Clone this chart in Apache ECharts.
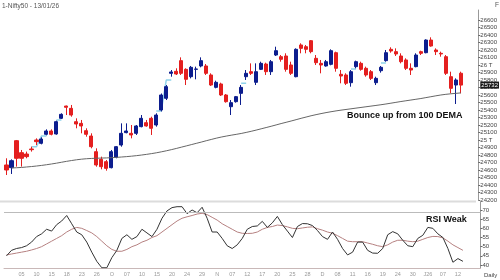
<!DOCTYPE html>
<html><head><meta charset="utf-8">
<script src="https://cdn.jsdelivr.net/npm/echarts@6/dist/echarts.min.js"></script>
<style>html,body{margin:0;padding:0;background:#fff}#c{width:500px;height:280px}</style>
</head><body><div id="c"></div>
<script>
// trading dates (Sep 2 2025 .. Jan 13 2026)
const dates = [
 '2025-09-02','2025-09-03','2025-09-04','2025-09-05','2025-09-08','2025-09-09','2025-09-10','2025-09-11','2025-09-12','2025-09-15','2025-09-16','2025-09-17','2025-09-18','2025-09-19','2025-09-22','2025-09-23','2025-09-24','2025-09-25','2025-09-26','2025-09-29','2025-09-30',
 '2025-10-01','2025-10-03','2025-10-06','2025-10-07','2025-10-08','2025-10-09','2025-10-10','2025-10-13','2025-10-14','2025-10-15','2025-10-16','2025-10-17','2025-10-20','2025-10-21','2025-10-23','2025-10-24','2025-10-27','2025-10-28','2025-10-29','2025-10-30','2025-10-31',
 '2025-11-03','2025-11-04','2025-11-06','2025-11-07','2025-11-10','2025-11-11','2025-11-12','2025-11-13','2025-11-14','2025-11-17','2025-11-18','2025-11-19','2025-11-20','2025-11-21','2025-11-24','2025-11-25','2025-11-26','2025-11-27','2025-11-28',
 '2025-12-01','2025-12-02','2025-12-03','2025-12-04','2025-12-05','2025-12-08','2025-12-09','2025-12-10','2025-12-11','2025-12-12','2025-12-15','2025-12-16','2025-12-17','2025-12-18','2025-12-19','2025-12-22','2025-12-23','2025-12-24','2025-12-26','2025-12-29','2025-12-30','2025-12-31',
 '2026-01-01','2026-01-02','2026-01-05','2026-01-06','2026-01-07','2026-01-08','2026-01-09','2026-01-12','2026-01-13'
];
// [open, close, low, high]
const ohlc = [
 [24667,24600,24533,24756],[24631,24724,24547,24742],[24991,24756,24645,25000],[24831,24756,24645,24867],[24813,24778,24756,24845],
 [24880,24871,24845,24911],[25000,24978,24933,25022],[24956,25013,24942,25036],[25076,25120,25062,25142],[25120,25076,25062,25142],
 [25080,25244,25071,25258],[25289,25342,25280,25356],[25453,25436,25333,25458],[25422,25333,25311,25467],[25244,25213,25156,25289],
 [25222,25187,25089,25267],[25124,25076,25044,25156],[25053,24911,24889,25089],[24844,24667,24644,24889],[24742,24644,24609,24778],
 [24711,24622,24591,24733],[24631,24844,24622,24867],[24769,24911,24756,24920],[24933,25089,24911,25222],[25098,25120,25089,25222],
 [25089,25067,25022,25200],[25089,25187,25067,25200],[25178,25289,25169,25333],[25231,25187,25178,25267],[25289,25156,25067,25311],
 [25200,25333,25178,25356],[25400,25600,25380,25620],[25556,25711,25533,25733],[25889,25907,25844,25933],[25916,25880,25867,25956],
 [26058,25889,25867,26102],[25942,25809,25733,25956],[25844,25969,25822,25987],[25942,25947,25809,25978],[25987,26058,25969,26102],
 [25987,25889,25867,26013],[25867,25733,25720,25889],[25702,25769,25689,25791],[25747,25600,25587,25764],[25600,25511,25498,25613],
 [25444,25498,25333,25533],[25511,25578,25498,25587],[25622,25702,25467,25733],[25844,25889,25800,25933],[25911,25889,25867,26022],
 [25769,25911,25733,26022],[25942,26022,25933,26044],[26013,25911,25867,26031],[25911,26044,25867,26067],[26133,26191,26120,26244],
 [26111,26076,26044,26133],[26120,25942,25911,26156],[26000,25889,25867,26044],[25844,26209,25836,26222],[26267,26222,26156,26289],
 [26244,26209,26156,26267],[26324,26178,26156,26333],[26089,26031,26000,26133],[26022,26000,25889,26067],[25987,26044,25978,26067],
 [26009,26191,25996,26209],[26164,25956,25911,26178],[25876,25853,25756,25933],[25867,25756,25733,25889],[25764,25911,25711,25933],
 [25978,26044,25956,26058],[26022,25942,25924,26044],[25956,25867,25844,25978],[25911,25822,25800,25933],[25764,25822,25733,25844],
 [25924,25969,25898,25987],[26058,26164,26044,26200],[26209,26187,26164,26236],[26178,26147,26120,26222],[26120,26044,26022,26156],
 [26067,25956,25933,26089],[25956,25933,25867,26022],[25978,26133,25969,26156],[26178,26156,26133,26191],[26164,26333,26156,26342],
 [26333,26253,26244,26369],[26200,26178,26133,26222],[26156,26147,26111,26178],[26111,25889,25867,26133],[25844,25689,25622,25911],
 [25733,25800,25480,25822],[25890,25732,25622,25911]
];
const dema100 = ['-',24627,24630,24634,24640,24646,24653,24661,24670,24680,24691,24703,24715,24726,24736,24744,24750,24754,24757,24759,
 24761,24764,24768,24773,24778,24784,24791,24799,24808,24818,24829,24842,24856,24871,24887,24904,24921,24938,24955,24972,
 24990,25007,25024,25039,25052,25064,25075,25087,25101,25116,25132,25149,25166,25183,25201,25219,25236,25253,25271,25289,
 25306,25323,25338,25352,25365,25377,25388,25398,25407,25416,25425,25434,25443,25452,25461,25470,25480,25491,25502,25513,
 25523,25533,25543,25553,25565,25577,25589,25600,25609,25616,25622,25628];
// small cyan gap dashes: [start index, level]
const gapMarks = [[5,24910],[7,25053],[10,25267],[30,25387],[32,25800],[47,25756],[69,25947],[75,26027]];
const rsi = [45,48,49,49.5,50.5,52.5,55.5,57,59.5,58.5,62,64,67,62.5,58,56.5,52.5,47,42,38.5,
 38.5,44,48,54.5,56.5,54,55.5,59.5,57.5,55.5,59.5,65.5,69.5,71.3,71.8,71.8,68,70,68.5,71.5,
 65.5,58,58,54.5,50.5,49,51,54.5,59.5,61,61.3,63.8,60.5,63,66.5,62,58.5,55,61,62.6,
 62.5,61.5,58.8,55.5,54,58,54,49,45.5,47,52.5,52.5,48,46.5,46.4,49,56.5,58.2,57,53.5,
 50.5,50,54.5,56.2,60.5,60,57,55,49,41.5,43.5,42];
const rsiSignal = [45.5,46,46.5,47,47.5,48.2,49,50,51.5,53,54.5,56,58,59.5,60.5,60,58.8,57.5,55.5,53,
 50.5,48.5,47.5,47.5,48.5,50,51,52.5,53.5,55,56,58,60,62,64,65.5,66.3,67,67.8,68.2,
 67.5,66,64.5,62.5,61,59.5,58,57.3,57.2,57.3,58,59.5,60.5,61,61.8,61.5,60.8,60,59.8,60.2,
 60.6,60.8,59.8,59,58,57.3,56,54.5,53,52.7,52.7,52.7,52,51.3,50.5,50,51,52.5,53.5,53.5,
 53,52.7,53,54,55,55.6,55.5,54.8,53,51,49.5,48];
const priceTicks = [24200,24300,24400,24500,24600,24700,24800,24900,25000,25100,25200,25300,25400,25500,25600,25700,25800,25900,26000,26100,26200,26300,26400,26500,26600];
const rsiTicks = [40,45,50,55,60,65,70];
const lastPrice = 25732;
const padCount = 3;

const cats = dates.concat(Array(padCount).fill(''));
const pad = a => a.concat(Array(padCount).fill('-'));
const gapData = cats.map(()=>null);
gapMarks.forEach(([i,v])=>{ gapData[i]=v; gapData[i+1]=v; });
const monthTag = {'01':'J26','10':'O','11':'N','12':'D','09':'S'};
const lastIdx = dates.length - 1;
function showLabel(i){ return i>0 && i<=lastIdx && (lastIdx-1-i)%3===0; }
let prevMonth = null;
const labelText = {};
for (let i=0;i<dates.length;i++){
  if(!showLabel(i)) continue;
  const m = dates[i].slice(5,7), d = dates[i].slice(8,10);
  labelText[i] = (prevMonth!==null && m!==prevMonth) ? monthTag[m] : d;
  prevMonth = m;
}

const RED='#e41f1f', BLUE='#0c1d8e';
const chart = echarts.init(document.getElementById('c'), null, {renderer:'canvas'});
const font = 'Liberation Sans, Arial, sans-serif';
chart.setOption({
  animation:false,
  textStyle:{fontFamily:font},
  grid:[
    {left:4, width:476.5, top:10, height:190},
    {left:4, width:476.5, top:202, height:66}
  ],
  xAxis:[
    {type:'category', gridIndex:0, data:cats, boundaryGap:true, axisLine:{show:false}, axisTick:{show:false}, axisLabel:{show:false}},
    {type:'category', gridIndex:1, data:cats, boundaryGap:true,
     axisLine:{show:true, lineStyle:{color:'#c9b8b8', width:1}}, axisTick:{show:false},
     axisLabel:{interval:(i)=>showLabel(i), formatter:(v,i)=>labelText[i]||'', fontSize:5.5, color:'#999', margin:3}}
  ],
  yAxis:[
    {type:'value', gridIndex:0, position:'right', min:24200, max:26733.33, scale:true,
     axisLine:{show:true, lineStyle:{color:'#999'}}, splitLine:{show:false},
     axisTick:{show:true, length:2, customValues:priceTicks, lineStyle:{color:'#666'}},
     axisLabel:{customValues:priceTicks, fontSize:6, color:'#444', margin:2,
       formatter:v=> v===25000?'25 T':(v===26000?'26 T':String(v))}},
    {type:'value', gridIndex:1, position:'right', min:38.364, max:74.364,
     axisLine:{show:true, lineStyle:{color:'#999'}}, splitLine:{show:false},
     axisTick:{show:true, length:2, customValues:rsiTicks, lineStyle:{color:'#666'}},
     axisLabel:{customValues:rsiTicks, fontSize:6, color:'#444', margin:2}}
  ],
  series:[
    {type:'line', xAxisIndex:0, yAxisIndex:0, data:gapData, symbol:'none', connectNulls:false,
     lineStyle:{color:'#8fd3ea', width:1.5}, z:1},
    {type:'candlestick', xAxisIndex:0, yAxisIndex:0, data:pad(ohlc), barWidth:3.6,
     itemStyle:{color:BLUE, color0:RED, borderColor:BLUE, borderColor0:RED, borderWidth:1},
     markLine:{silent:true, symbol:'none', lineStyle:{color:'transparent'},
       label:{show:true, position:'end', formatter:String(lastPrice), fontSize:6, color:'#fff', backgroundColor:'#1a1a1a', padding:[1,1,0,1], distance:2},
       data:[{yAxis:lastPrice}]}},
    {type:'line', xAxisIndex:0, yAxisIndex:0, data:pad(dema100), symbol:'none', smooth:false,
     lineStyle:{color:'#666', width:1}},
    {type:'line', xAxisIndex:1, yAxisIndex:1, data:pad(rsiSignal), symbol:'none',
     lineStyle:{color:'#b58080', width:1},
     markLine:{silent:true, symbol:'none', label:{show:false}, lineStyle:{color:'#bbb', width:1, type:'solid'}, data:[{yAxis:69}]}},
    {type:'line', xAxisIndex:1, yAxisIndex:1, data:pad(rsi), symbol:'none',
     lineStyle:{color:'#333', width:1}}
  ],
  graphic:[
    {type:'rect', shape:{x:0, y:200.5, width:476, height:2}, style:{fill:'#dcdcdc'}, silent:true},
    {type:'text', left:2, top:3, style:{text:'1-Nifty50 - 13/01/26', fontSize:6.5, fill:'#555', fontFamily:font}},
    {type:'text', left:495, top:2, style:{text:'F', fontSize:6.5, fill:'#555', fontFamily:font}},
    {type:'text', left:347, top:111, style:{text:'Bounce up from 100 DEMA', fontSize:9, fontWeight:'bold', fill:'#111', fontFamily:font}},
    {type:'text', left:426, top:215, style:{text:'RSI Weak', fontSize:9, fontWeight:'bold', fill:'#111', fontFamily:font}},
    {type:'text', left:484, top:272, style:{text:'Daily', fontSize:6, fill:'#444', fontFamily:font}}
  ]
});
</script></body></html>
